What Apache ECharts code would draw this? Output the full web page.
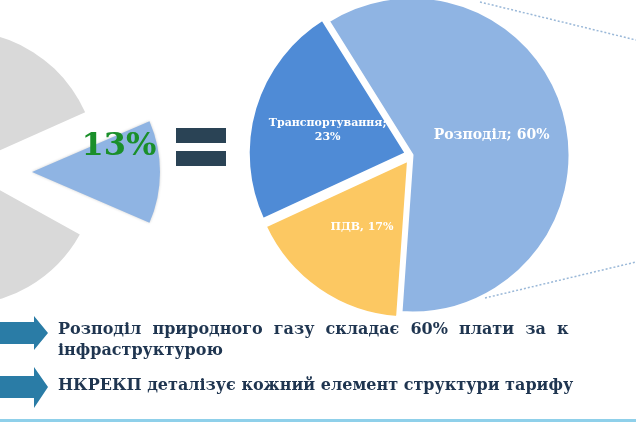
<!DOCTYPE html>
<html><head><meta charset="utf-8">
<script src="https://cdn.jsdelivr.net/npm/echarts@6/dist/echarts.min.js"></script>
<style>html,body{margin:0;padding:0;background:#fff}#c{width:636px;height:424px}</style>
</head><body><div id="c"></div>
<script>
const mainCategories = ['Розподіл', 'ПДВ', 'Транспортування'];
const mainValues = [60, 17, 23];
const mainLabels = ['Розподіл; 60%', 'ПДВ, 17%', 'Транспортування;\n23%'];
const mainColors = ['#8fb4e3', '#fcc862', '#4f8bd6'];
const shareValue = 13;
const shareLabel = '13%';
const greySegments = [126, 60, 121, 53];
const bullets = ['Розподіл  природного  газу  складає  60%  плати  за  к', 'інфраструктурою', 'НКРЕКП деталізує кожний елемент структури тарифу'];

const serif = '"DejaVu Serif","Liberation Serif",serif';
const chart = echarts.init(document.getElementById('c'));
chart.setOption({
  animation: false,
  series: [
    {
      type: 'pie', center: [-40, 168], radius: 137, startAngle: 24, clockwise: false, silent: true,
      label: { show: false },
      data: greySegments.map((v, i) => ({ value: v, itemStyle: { color: i % 2 === 0 ? '#d9d9d9' : 'transparent' } }))
    },
    {
      type: 'pie', center: [32, 172], radius: 128, startAngle: 360 * shareValue / 200, clockwise: true, silent: true,
      label: { show: false },
      data: [
        { value: shareValue, itemStyle: { color: '#8fb4e3', shadowBlur: 3, shadowColor: 'rgba(0,0,0,0.2)' },
          label: { show: true, position: 'inside', formatter: shareLabel, color: '#1a8f2a', fontFamily: serif, fontSize: 32, fontWeight: 'bold', offset: [20, -25] } },
        { value: 100 - shareValue, itemStyle: { color: 'transparent' } }
      ]
    },
    {
      type: 'pie', center: [412, 155], radius: 158, startAngle: 122, clockwise: true, silent: true,
      selectedMode: 'multiple', selectedOffset: 6,
      itemStyle: { borderColor: '#fff', borderWidth: 3 },
      label: { position: 'inside', color: '#fff', fontFamily: serif, fontWeight: 'bold', fontSize: 11, lineHeight: 14 },
      data: mainCategories.map((n, i) => ({
        name: n, value: mainValues[i], selected: i !== 0,
        itemStyle: { color: mainColors[i] },
        label: { formatter: mainLabels[i], fontSize: i === 0 ? 14 : 11 }
      }))
    }
  ],
  graphic: [
    { type: 'rect', shape: { x: 176, y: 128, width: 50, height: 15 }, style: { fill: '#2a4355' } },
    { type: 'rect', shape: { x: 176, y: 151, width: 50, height: 15 }, style: { fill: '#2a4355' } },
    { type: 'line', shape: { x1: 480, y1: 2, x2: 636, y2: 40 }, style: { stroke: '#9ab8d8', lineWidth: 1.5, lineDash: [2, 2] } },
    { type: 'line', shape: { x1: 485, y1: 298, x2: 636, y2: 262 }, style: { stroke: '#9ab8d8', lineWidth: 1.5, lineDash: [2, 2] } },
    { type: 'polygon', shape: { points: [[0,322],[34,322],[34,316],[48,333],[34,350],[34,344],[0,344]] }, style: { fill: '#2a7ca6' } },
    { type: 'polygon', shape: { points: [[0,376],[34,376],[34,367],[48,387],[34,408],[34,398],[0,398]] }, style: { fill: '#2a7ca6' } },
    { type: 'text', left: 58, top: 322, style: { text: bullets[0], font: 'bold 16px ' + serif, fill: '#1f3550' } },
    { type: 'text', left: 58, top: 343, style: { text: bullets[1], font: 'bold 16px ' + serif, fill: '#1f3550' } },
    { type: 'text', left: 58, top: 378, style: { text: bullets[2], font: 'bold 16px ' + serif, fill: '#1f3550' } },
    { type: 'rect', shape: { x: 0, y: 419, width: 636, height: 3 }, style: { fill: '#8fd0ea' } }
  ]
});
</script></body></html>
